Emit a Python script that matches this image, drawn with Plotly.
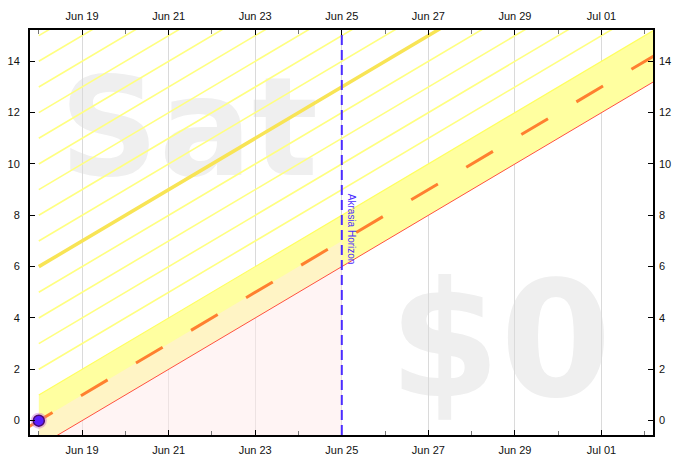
import plotly.graph_objects as go

# ---- data ----
road_dates = ["2023-06-17 16:50", "2023-07-03 00:00"]
road_vals = [-0.3, 15.0]
band_dates = ["2023-06-18", "2023-07-03"]
band_road = [0.0, 15.0]
lane_width = 1.0
guide_offsets = [2, 3, 4, 5, 6, 7, 8, 9, 10, 11, 12, 13, 14, 15]
thick_offset = 6
horizon_date = "2023-06-25"
pink_dates = ["2023-06-18", "2023-06-25"]
pink_road = [0.0, 7.0]
point_dates = ["2023-06-18"]
point_vals = [0.0]
x_range = ["2023-06-17 19:07", "2023-07-02 04:34"]
y_range = [-0.56, 15.22]
y_ticks = [0, 2, 4, 6, 8, 10, 12, 14]
watermark_left = "Sat"
watermark_right = "$0"
horizon_label = "Akrasia Horizon"

fig = go.Figure()

# yellow band
fig.add_trace(go.Scatter(x=band_dates, y=[v - lane_width for v in band_road], mode="lines",
                         line=dict(width=0, color="rgba(0,0,0,0)"), hoverinfo="skip", showlegend=False))
fig.add_trace(go.Scatter(x=band_dates, y=[v + lane_width for v in band_road], mode="lines",
                         fill="tonexty", fillcolor="#ffffa0",
                         line=dict(width=1.2, color="#ffff60"), hoverinfo="skip", showlegend=False))

# pink past region (below road, until horizon)
fig.add_trace(go.Scatter(x=pink_dates, y=[y_range[0] - 1] * len(pink_dates), mode="lines",
                         line=dict(width=0, color="rgba(0,0,0,0)"), hoverinfo="skip", showlegend=False))
fig.add_trace(go.Scatter(x=pink_dates, y=pink_road, mode="lines", fill="tonexty",
                         fillcolor="rgba(255,233,233,0.5)",
                         line=dict(width=0, color="rgba(0,0,0,0)"), hoverinfo="skip", showlegend=False))

# guide lines
for k in guide_offsets:
    if k == thick_offset:
        continue
    fig.add_trace(go.Scatter(x=band_dates, y=[v + k for v in band_road], mode="lines",
                             line=dict(width=1.6, color="#ffff80"), hoverinfo="skip", showlegend=False))
fig.add_trace(go.Scatter(x=band_dates, y=[v + thick_offset for v in band_road], mode="lines",
                         line=dict(width=3.5, color="#f8e455"), hoverinfo="skip", showlegend=False))

# red lower lane edge
fig.add_trace(go.Scatter(x=band_dates, y=[v - lane_width for v in band_road], mode="lines",
                         line=dict(width=1, color="#ff5040"), hoverinfo="skip", showlegend=False))

# road (dashed orange)
fig.add_trace(go.Scatter(x=road_dates, y=road_vals, mode="lines",
                         line=dict(width=3, color="#ff8030", dash="31px,33px"),
                         hoverinfo="skip", showlegend=False))

# datapoint
fig.add_trace(go.Scatter(x=point_dates, y=point_vals, mode="markers",
                         marker=dict(size=16, color="rgba(200,110,210,0.45)", line=dict(width=0)),
                         hoverinfo="skip", showlegend=False, cliponaxis=False))
fig.add_trace(go.Scatter(x=point_dates, y=point_vals, mode="markers",
                         marker=dict(size=11, color="#5a1eff", line=dict(width=1.5, color="#4a0a70")),
                         hoverinfo="skip", showlegend=False, cliponaxis=False))

# dummy trace for top/right axes
fig.add_trace(go.Scatter(x=[horizon_date], y=[0], xaxis="x2", yaxis="y2", mode="markers",
                         marker=dict(opacity=0), hoverinfo="skip", showlegend=False))

# horizon line
fig.add_shape(type="line", x0=horizon_date, x1=horizon_date, xref="x", yref="paper", y0=0, y1=1,
              line=dict(color="#4b2cff", width=2, dash="10px,5px"), layer="above")
fig.add_annotation(x=horizon_date, y=pink_road[-1] - lane_width, xref="x", yref="y",
                   text=horizon_label, textangle=90, showarrow=False,
                   xanchor="left", yanchor="bottom", xshift=3,
                   font=dict(family="Liberation Sans, Arial", size=10, color="#4b2cff"))

# watermarks (below grid)
fig.add_shape(type="rect", xref="paper", yref="paper", x0=0.0, x1=0.51, y0=0.57, y1=1.0,
              line=dict(width=0), fillcolor="rgba(0,0,0,0)", layer="below",
              label=dict(text=watermark_left, textposition="middle center",
                         font=dict(family="DejaVu Sans", size=138, color="#efefef", weight="bold")))
fig.add_shape(type="rect", xref="paper", yref="paper", x0=0.52, x1=0.99, y0=0.0, y1=0.52,
              line=dict(width=0), fillcolor="rgba(0,0,0,0)", layer="below",
              label=dict(text=watermark_right, textposition="middle center",
                         font=dict(family="DejaVu Sans", size=160, color="#efefef", weight="bold")))

tickfont = dict(family="Liberation Sans, Arial", size=11, color="#111")
xcommon = dict(type="date", range=x_range, tickformat="%b %d", dtick=2 * 86400000, tick0="2023-06-19",
               ticks="inside", ticklen=5, tickwidth=1, tickcolor="#000", tickfont=tickfont,
               minor=dict(dtick=86400000, tick0="2023-06-18", ticks="inside", ticklen=4,
                          tickcolor="#777", showgrid=False),
               zeroline=False, automargin=False)
ycommon = dict(range=y_range, tickvals=y_ticks, ticks="inside", ticklen=5, tickwidth=1,
               tickcolor="#000", tickfont=tickfont, zeroline=False, showgrid=False, automargin=False)

fig.update_layout(
    width=684, height=462,
    margin=dict(l=30, r=31, t=30, b=27, autoexpand=False),
    paper_bgcolor="white", plot_bgcolor="white",
    showlegend=False,
    hovermode=False,
    xaxis=dict(**xcommon, showgrid=True, gridcolor="#dadada", gridwidth=1,
               showline=True, linecolor="#000", linewidth=2, mirror=True, ticklabelstandoff=4),
    xaxis2=dict(**xcommon, overlaying="x", side="top", anchor="y", showgrid=False, showline=False,
                ticklabelstandoff=7),
    yaxis=dict(**ycommon, showline=True, linecolor="#000", linewidth=2, mirror=True,
               ticklabelstandoff=6),
    yaxis2=dict(**ycommon, overlaying="y", side="right", anchor="x", showline=False,
                ticklabelstandoff=5),
)

fig.write_html("out.html", config={"displayModeBar": False},
               post_script="document.body.style.margin='0';document.body.style.overflow='hidden';")
